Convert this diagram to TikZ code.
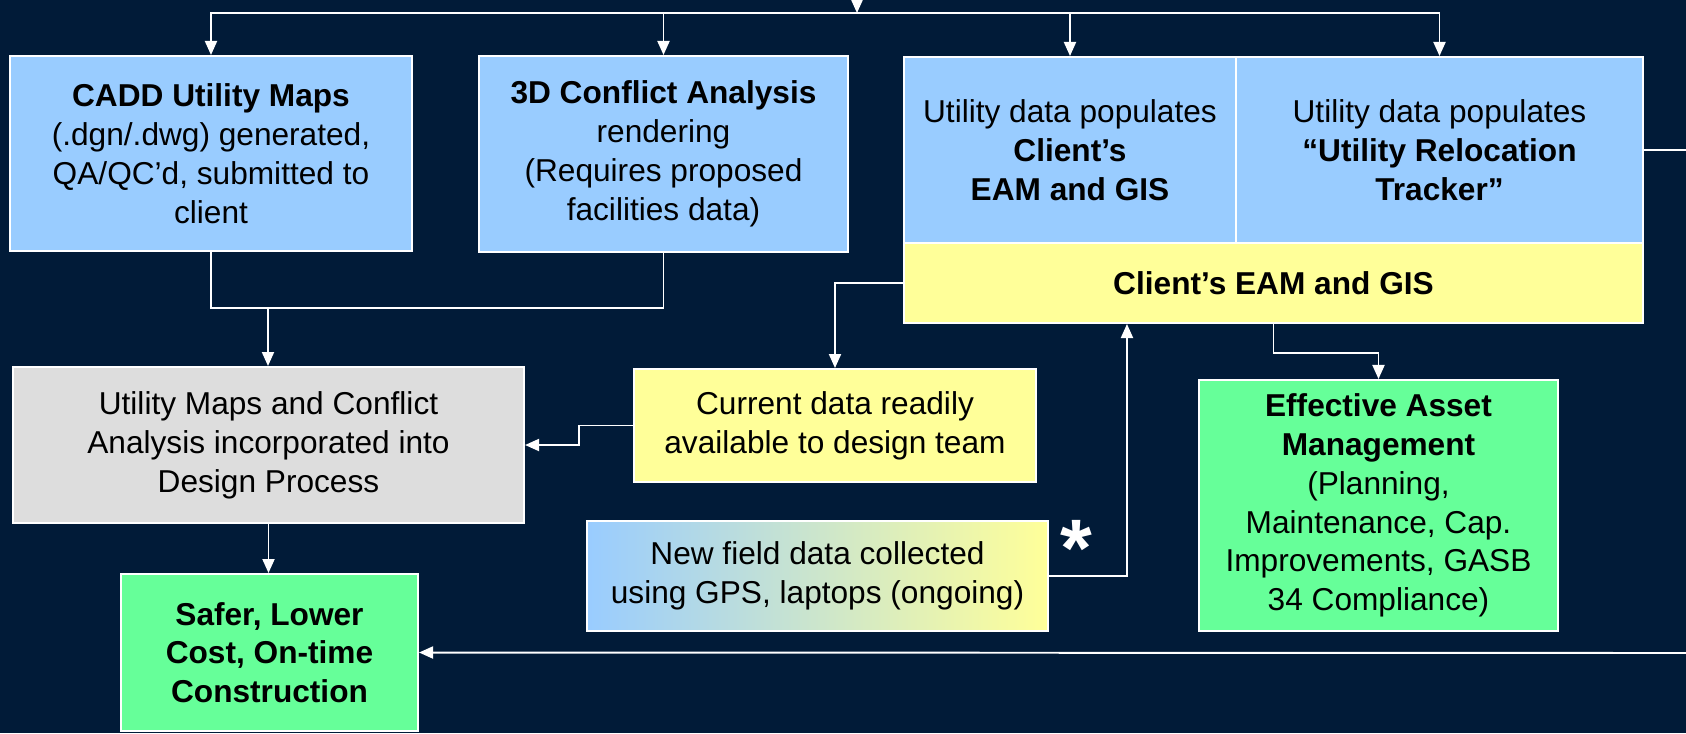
\documentclass[tikz,border=0pt]{standalone}
\usepackage{fontspec}
\setmainfont{Liberation Sans}
\usetikzlibrary{arrows.meta}
\definecolor{navy}{HTML}{011B38}
\definecolor{skyblue}{HTML}{99CCFF}
\definecolor{paleyellow}{HTML}{FFFF99}
\definecolor{mintgreen}{HTML}{66FF99}
\definecolor{boxgray}{HTML}{DDDDDD}
\tikzset{
  box/.style={draw=white, line width=1.4pt, text=black, align=center, inner sep=0pt,
    font=\fontsize{22.5}{27.6}\selectfont},
  wire/.style={draw=white, line width=1.4pt},
  flow/.style={wire, -{Triangle[length=0.35cm, width=0.3cm]}},
}
\begin{document}
\begin{tikzpicture}[x=0.025cm, y=-0.025cm]
  \fill[navy] (0,0) rectangle (1686,733);
  \useasboundingbox (0,0) rectangle (1686,733);
  % top row
  \node[box, fill=skyblue, minimum width=10.05cm, minimum height=4.875cm] (cadd) at (211,153.5)
    {\textbf{CADD Utility Maps}\\(.dgn/.dwg) generated,\\QA/QC’d, submitted to\\client};
  \node[box, fill=skyblue, minimum width=9.225cm, minimum height=4.9cm] (conf) at (663.5,154)
    {\textbf{3D Conflict Analysis}\\rendering\\(Requires proposed\\facilities data)};
  \node[box, fill=skyblue, minimum width=8.3cm, minimum height=4.65cm] (popeam) at (1070,150)
    {Utility data populates\\\textbf{Client’s}\\\textbf{EAM and GIS}};
  \node[box, fill=skyblue, minimum width=10.175cm, minimum height=4.65cm] (poptrk) at (1439.5,150)
    {Utility data populates\\\textbf{“Utility Relocation}\\\textbf{Tracker”}};
  \node[box, fill=paleyellow, minimum width=18.475cm, minimum height=2cm] (eamgis) at (1273.5,283)
    {\textbf{Client’s EAM and GIS}};
  % middle and bottom
  \node[box, fill=boxgray, minimum width=12.775cm, minimum height=3.9cm] (design) at (268.5,445)
    {Utility Maps and Conflict\\Analysis incorporated into\\Design Process};
  \node[box, fill=paleyellow, minimum width=10.05cm, minimum height=2.825cm] (current) at (835,425.5)
    {Current data readily\\available to design team};
  \node[box, left color=skyblue, right color=paleyellow, minimum width=11.525cm, minimum height=2.75cm] (field) at (817.5,576)
    {New field data collected\\using GPS, laptops (ongoing)};
  \node[box, fill=mintgreen, minimum width=8.975cm, minimum height=6.275cm] (asset) at (1378.5,505.5)
    {\textbf{Effective Asset}\\\textbf{Management}\\(Planning,\\Maintenance, Cap.\\Improvements, GASB\\34 Compliance)};
  \node[box, fill=mintgreen, minimum width=7.425cm, minimum height=3.925cm] (safer) at (269.5,652.5)
    {\textbf{Safer, Lower}\\\textbf{Cost, On-time}\\\textbf{Construction}};
  \node[text=white, inner sep=0pt, font=\fontsize{58}{58}\selectfont\bfseries] (ast) at (1076,548) {*};

  \coordinate (src) at (857,0);
  \coordinate (bus) at (857,13);
  \coordinate (join) at (268,308);
  \coordinate (outR) at (1686,150);
  \coordinate (inR) at (1686,653);

  \draw[flow] (src) -- (bus);
  \draw[flow] (bus) -| (cadd);
  \draw[flow] (bus) -| (conf);
  \draw[flow] (bus) -| (popeam);
  \draw[flow] (bus) -| (poptrk);
  \draw[wire] (cadd.south) |- (join) -| (conf.south);
  \draw[flow] (join) -- (join |- design.north);
  \draw[flow] (eamgis.west) -| (current);
  \draw[flow] (current.west) -- ++(-54,0) |- (design.east);
  \draw[flow] (design.south) -- (design.south |- safer.north);
  \draw[flow] (field.east) -| ([xshift=5.6cm]eamgis.south west);
  \draw[flow] (eamgis.south) -- ++(0,29) -| (asset.north);
  \draw[wire] (poptrk.east) -- (outR);
  \draw[flow] (inR) -- (safer.east);
\end{tikzpicture}
\end{document}
